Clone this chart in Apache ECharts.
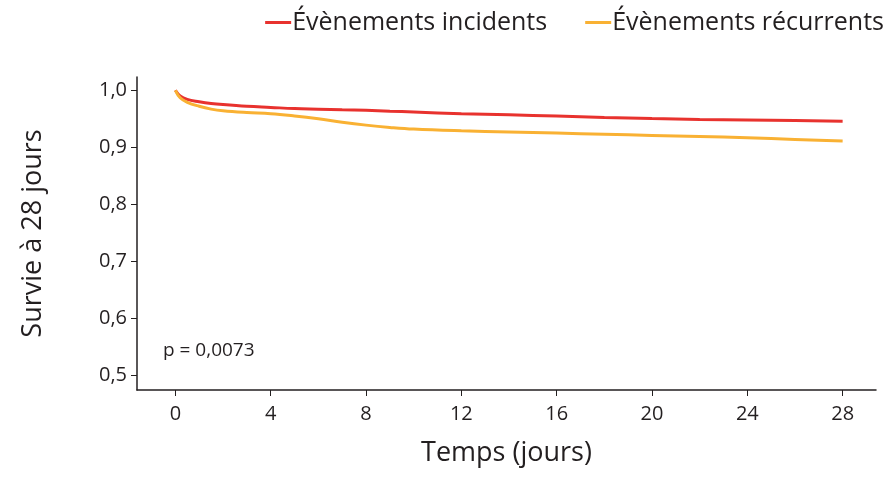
<!DOCTYPE html>
<html>
<head>
<meta charset="utf-8">
<script src="https://cdn.jsdelivr.net/npm/echarts@6/dist/echarts.min.js"></script>
<style>html,body{margin:0;padding:0;background:#fff}#c{width:893px;height:478px}</style>
</head>
<body>
<div id="c"></div>
<script>
var seriesNames = ['Évènements incidents', 'Évènements récurrents'];
var days = [0, 0.2, 0.5, 1, 1.5, 2, 3, 4, 5, 6, 7, 8, 9, 10, 12, 14, 16, 18, 20, 22, 24, 26, 28];
var incidents = [1.0, 0.990, 0.984, 0.980, 0.977, 0.975, 0.972, 0.970, 0.968, 0.967, 0.966, 0.965, 0.9635, 0.962, 0.959, 0.957, 0.955, 0.9525, 0.9505, 0.949, 0.948, 0.947, 0.946];
var recurrents = [1.0, 0.987, 0.979, 0.972, 0.967, 0.964, 0.961, 0.959, 0.955, 0.950, 0.944, 0.939, 0.935, 0.932, 0.929, 0.927, 0.925, 0.923, 0.921, 0.919, 0.917, 0.914, 0.911];
var xTicks = [0, 4, 8, 12, 16, 20, 24, 28];
var yTicks = [0.5, 0.6, 0.7, 0.8, 0.9, 1.0];
var pText = 'p = 0,0073';

var FONT = 'Open Sans';
var TXT = '#231f20';
function pairs(v){ return days.map(function(d,i){ return [d, v[i]]; }); }

var chart = echarts.init(document.getElementById('c'), null, {renderer:'canvas'});
chart.setOption({
  animation: false,
  textStyle: {fontFamily: FONT, color: TXT},
  grid: {left: 137, right: 17, top: 77, bottom: 88, containLabel: false},
  legend: {
    right: 4, top: 5, itemWidth: 26, itemHeight: 3, itemGap: 38,
    icon: 'rect',
    textStyle: {fontFamily: FONT, fontSize: 25, color: TXT, padding: [0,0,0,-4]},
    data: seriesNames
  },
  xAxis: {
    type: 'value', min: -1.61, max: 29.4,
    name: 'Temps (jours)', nameLocation: 'middle', nameGap: 50,
    nameTextStyle: {fontFamily: FONT, fontSize: 27, color: TXT},
    axisLine: {show: true, onZero: false, lineStyle: {color: TXT, width: 1.5}},
    axisTick: {show: true, customValues: xTicks, length: 6, lineStyle: {color: TXT}},
    axisLabel: {customValues: xTicks, margin: 14, fontSize: 20, color: TXT, fontFamily: FONT},
    splitLine: {show: false}
  },
  yAxis: {
    type: 'value', min: 0.475, max: 1.0233,
    name: 'Survie à 28 jours', nameLocation: 'middle', nameGap: 90, nameRotate: 90,
    nameTextStyle: {fontFamily: FONT, fontSize: 27, color: TXT},
    axisLine: {show: true, onZero: false, lineStyle: {color: TXT, width: 1.5}},
    axisTick: {show: true, customValues: yTicks, length: 6, lineStyle: {color: TXT}},
    axisLabel: {customValues: yTicks, margin: 10, fontSize: 20, color: TXT, fontFamily: FONT,
      formatter: function(v){ return v.toFixed(1).replace('.', ','); }},
    splitLine: {show: false}
  },
  graphic: [{
    type: 'text', left: 163, top: 341,
    style: {text: pText, fontFamily: FONT, fontSize: 19, fill: TXT}
  }],
  series: [
    {name: seriesNames[0], type: 'line', data: pairs(incidents), smooth: 0.4, showSymbol: false,
      color: '#e8322e', lineStyle: {width: 3, color: '#e8322e'}},
    {name: seriesNames[1], type: 'line', data: pairs(recurrents), smooth: 0.4, showSymbol: false,
      color: '#f9b133', lineStyle: {width: 3, color: '#f9b133'}}
  ]
});
</script>
</body>
</html>
